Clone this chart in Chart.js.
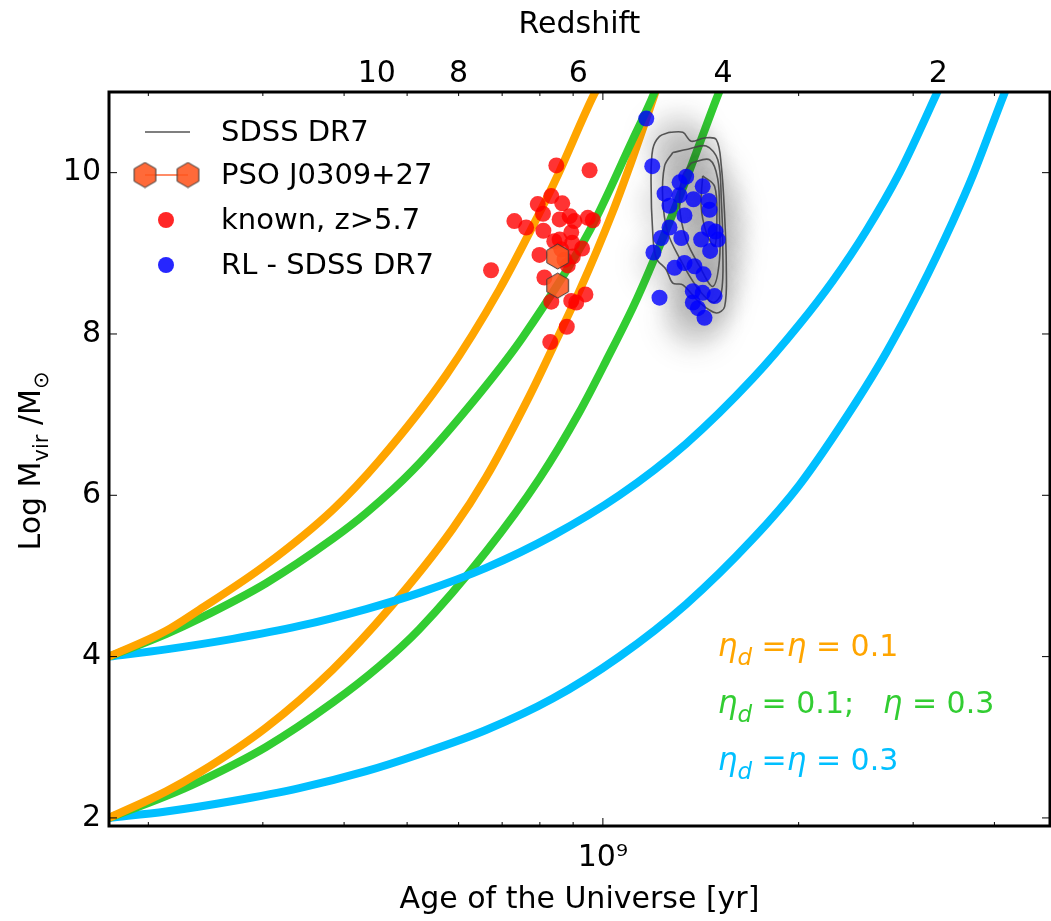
<!DOCTYPE html>
<html>
<head>
<meta charset="utf-8">
<title>BH growth vs age of the Universe</title>
<script src="https://cdn.jsdelivr.net/npm/chart.js@4.4.1/dist/chart.umd.min.js"></script>
<style>
  html, body { margin: 0; padding: 0; background: #fff; overflow: hidden; }
  #wrap { width: 1051px; height: 921px; position: relative; }
  canvas { display: block; }
</style>
</head>
<body>
<div id="wrap"><canvas id="chart"></canvas></div>
<script>
// axis ticks
const massTicks = [2, 4, 6, 8, 10];
const ageMajorTicks = [1e9];
const ageMajorLabels = ['10\u2079'];
const ageMinorTicks = [2e8, 3e8, 4e8, 5e8, 6e8, 7e8, 8e8, 9e8, 2e9, 3e9, 4e9];
const redshiftAge = [4.49e8, 6.0e8, 9.17e8, 1.53e9, 3.28e9];
const redshiftLabel = ['10', '8', '6', '4', '2'];

// growth tracks (age in yr, log M)
const ageOrangeHigh = [1.74e8, 2.13e8, 2.395e8, 3.034e8, 3.842e8, 4.53e8, 5.74e8, 6.93e8, 7.93e8, 8.48e8, 9.61e8, 9.88e8];
const massOrangeHigh = [4.0, 4.32, 4.58, 5.14, 5.82, 6.43, 7.49, 8.55, 9.45, 9.93, 10.91, 11.1];
const ageOrangeLow = [1.74e8, 2.13e8, 2.395e8, 3.034e8, 3.842e8, 4.70e8, 5.87e8, 6.61e8, 7.71e8, 8.42e8, 9.20e8, 1.036e9, 1.112e9, 1.194e9, 1.222e9];
const massOrangeLow = [2.0, 2.33, 2.56, 3.12, 3.84, 4.60, 5.58, 6.22, 7.23, 7.87, 8.53, 9.52, 10.19, 10.91, 11.15];
const ageGreenHigh = [1.74e8, 2.13e8, 2.395e8, 3.034e8, 3.842e8, 4.325e8, 5.10e8, 6.46e8, 7.53e8, 9.54e8, 1.110e9, 1.188e9, 1.215e9];
const massGreenHigh = [4.0, 4.28, 4.47, 4.91, 5.46, 5.78, 6.31, 7.26, 7.96, 9.28, 10.40, 10.91, 11.1];
const ageGreenLow = [1.74e8, 2.13e8, 2.395e8, 3.034e8, 3.842e8, 4.53e8, 5.22e8, 6.61e8, 7.99e8, 9.20e8, 1.012e9, 1.127e9, 1.244e9, 1.354e9, 1.494e9, 1.53e9];
const massGreenLow = [2.0, 2.27, 2.45, 2.88, 3.43, 3.88, 4.34, 5.30, 6.21, 7.03, 7.67, 8.43, 9.24, 9.99, 10.91, 11.12];
const ageCyanHigh = [1.74e8, 2.13e8, 2.697e8, 3.414e8, 4.325e8, 5.22e8, 6.61e8, 8.37e8, 1.06e9, 1.343e9, 1.701e9, 2.006e9, 2.258e9, 2.541e9, 2.859e9, 3.26e9, 3.354e9];
const massCyanHigh = [4.0, 4.09, 4.22, 4.38, 4.59, 4.79, 5.10, 5.50, 6.00, 6.64, 7.45, 8.12, 8.66, 9.28, 10.0, 10.98, 11.2];
const ageCyanLow = [1.74e8, 2.13e8, 2.697e8, 3.414e8, 4.325e8, 5.22e8, 6.61e8, 8.37e8, 1.06e9, 1.343e9, 1.701e9, 2.006e9, 2.453e9, 2.728e9, 3.07e9, 3.454e9, 3.708e9, 4.133e9, 4.25e9];
const massCyanLow = [2.0, 2.08, 2.21, 2.37, 2.58, 2.79, 3.09, 3.48, 4.0, 4.65, 5.46, 6.13, 7.16, 7.77, 8.54, 9.40, 9.97, 10.96, 11.2];

// known quasars z>5.7
const knownAge = [8.48e8, 9.54e8, 8.33e8, 7.94e8, 8.09e8, 8.66e8, 7.31e8, 7.62e8, 8.58e8, 8.89e8, 9.04e8, 9.48e8, 9.65e8, 8.10e8, 8.58e8, 8.94e8, 8.97e8, 9.29e8, 7.99e8, 8.63e8, 8.99e8, 8.83e8, 6.73e8, 8.13e8, 8.33e8, 8.94e8, 9.10e8, 9.40e8, 8.80e8, 8.30e8, 8.42e8, 8.73e8];
const knownMass = [10.09, 10.03, 9.71, 9.61, 9.49, 9.62, 9.40, 9.32, 9.42, 9.46, 9.40, 9.44, 9.41, 9.28, 9.17, 9.26, 9.13, 9.06, 8.98, 9.05, 8.96, 8.85, 8.79, 8.70, 8.40, 8.41, 8.39, 8.49, 8.09, 7.90, 9.15, 8.92];

// PSO J0309+27
const psoAge = [8.52e8, 8.52e8];
const psoMass = [8.96, 8.60];

// radio loud SDSS DR7
const rlAge = [1.166e9, 1.191e9, 1.343e9, 1.312e9, 1.424e9, 1.244e9, 1.312e9, 1.378e9, 1.455e9, 1.266e9, 1.459e9, 1.335e9, 1.266e9, 1.455e9, 1.490e9, 1.229e9, 1.320e9, 1.416e9, 1.502e9, 1.462e9, 1.196e9, 1.289e9, 1.335e9, 1.383e9, 1.428e9, 1.222e9, 1.375e9, 1.424e9, 1.485e9, 1.375e9, 1.400e9, 1.433e9];
const rlMass = [10.67, 10.08, 9.95, 9.88, 9.83, 9.74, 9.72, 9.67, 9.65, 9.59, 9.54, 9.47, 9.32, 9.30, 9.27, 9.19, 9.19, 9.17, 9.17, 9.03, 9.01, 8.82, 8.88, 8.84, 8.74, 8.45, 8.53, 8.51, 8.47, 8.39, 8.32, 8.20];

// SDSS DR7 density contours
const contourAge1 = [1.266e9, 1.327e9, 1.367e9, 1.433e9, 1.494e9, 1.521e9, 1.539e9, 1.548e9, 1.539e9, 1.494e9, 1.408e9, 1.327e9, 1.281e9, 1.251e9, 1.208e9, 1.193e9, 1.186e9, 1.193e9, 1.222e9, 1.266e9];
const contourMass1 = [10.50, 10.50, 10.39, 10.43, 10.41, 10.08, 9.46, 8.84, 8.34, 8.26, 8.39, 8.61, 8.63, 8.80, 8.94, 9.26, 9.88, 10.29, 10.45, 10.50];
const contourAge2 = [1.281e9, 1.351e9, 1.442e9, 1.502e9, 1.521e9, 1.529e9, 1.521e9, 1.476e9, 1.392e9, 1.312e9, 1.258e9, 1.236e9, 1.244e9, 1.281e9];
const contourMass2 = [10.25, 10.29, 10.33, 10.16, 9.67, 9.05, 8.51, 8.39, 8.59, 8.94, 9.26, 9.67, 10.08, 10.25];
const contourAge3 = [1.367e9, 1.459e9, 1.502e9, 1.511e9, 1.511e9, 1.476e9, 1.408e9, 1.343e9, 1.312e9, 1.327e9, 1.367e9];
const contourMass3 = [10.12, 10.16, 9.92, 9.46, 8.92, 8.59, 8.84, 9.17, 9.59, 9.96, 10.12];
const contourAge4 = [1.424e9, 1.485e9, 1.497e9, 1.485e9, 1.442e9, 1.416e9, 1.424e9];
const contourMass4 = [9.96, 9.83, 9.42, 9.09, 9.26, 9.59, 9.96];

// SDSS DR7 density shading
const shadeAge = [1.30e9, 1.36e9, 1.43e9, 1.47e9, 1.48e9, 1.47e9, 1.45e9, 1.42e9, 1.38e9, 1.28e9, 1.27e9];
const shadeMass = [10.35, 10.15, 9.85, 9.55, 9.25, 8.95, 8.65, 8.4, 8.2, 9.6, 8.9];

const ORANGE = '#FFA500';
const GREEN = '#32CD32';
const CYAN = '#00BFFF';
const FONT = "'DejaVu Sans', sans-serif";

Chart.defaults.font.family = FONT;
Chart.defaults.color = '#000';

const pts = (xs, ys) => xs.map((v, i) => ({ x: v, y: ys[i] }));

function hexagonImage(r, fill, edge) {
  const c = document.createElement('canvas');
  const w = Math.ceil(r * 2 + 2);
  c.width = w;
  c.height = w;
  const g = c.getContext('2d');
  g.beginPath();
  for (let i = 0; i < 6; i++) {
    const ang = Math.PI / 180 * (60 * i - 90);
    const px = w / 2 + r * Math.cos(ang);
    const py = w / 2 + r * Math.sin(ang);
    if (i === 0) g.moveTo(px, py); else g.lineTo(px, py);
  }
  g.closePath();
  g.fillStyle = fill;
  g.fill();
  g.strokeStyle = edge;
  g.lineWidth = 1;
  g.stroke();
  return c;
}
const hexImg = hexagonImage(12.5, 'rgba(255,85,30,0.88)', '#3a3a3a');

function track(xs, ys, color) {
  return {
    data: pts(xs, ys),
    showLine: true,
    borderColor: color,
    borderWidth: 8,
    pointRadius: 0,
    pointHoverRadius: 0,
    cubicInterpolationMode: 'monotone',
    clip: 0,
    order: 6
  };
}

function contour(xs, ys) {
  return {
    data: pts(xs, ys),
    showLine: true,
    borderColor: 'rgba(70,70,70,0.9)',
    borderWidth: 1.6,
    pointRadius: 0,
    pointHoverRadius: 0,
    tension: 0.35,
    order: 3
  };
}

// draws a run of text pieces with different fonts / offsets
function drawRich(ctx, x, y, parts) {
  let cx = x;
  parts.forEach(p => {
    ctx.font = p.font;
    ctx.fillText(p.text, cx, y + (p.dy || 0));
    cx += ctx.measureText(p.text).width;
  });
  return cx - x;
}
function richWidth(ctx, parts) {
  let w = 0;
  parts.forEach(p => { ctx.font = p.font; w += ctx.measureText(p.text).width; });
  return w;
}

const decorations = {
  id: 'decorations',
  beforeDatasetDraw(chart, args) {
    const ds = chart.data.datasets[args.index];
    if (ds.blur) {
      chart.ctx.save();
      chart.ctx.filter = 'blur(' + ds.blur + 'px)';
    }
  },
  afterDatasetDraw(chart, args) {
    const ds = chart.data.datasets[args.index];
    if (ds.blur) chart.ctx.restore();
  },
  afterDraw(chart) {
    const ctx = chart.ctx;
    const a = chart.chartArea;
    const xs = chart.scales.x;
    const ys = chart.scales.y;
    ctx.save();

    // inward ticks on all four sides
    ctx.strokeStyle = '#000';
    ctx.lineWidth = 1;
    ctx.beginPath();
    massTicks.forEach(v => {
      const py = ys.getPixelForValue(v);
      ctx.moveTo(a.left, py); ctx.lineTo(a.left + 8, py);
      ctx.moveTo(a.right, py); ctx.lineTo(a.right - 8, py);
    });
    ageMajorTicks.forEach(v => {
      const px = xs.getPixelForValue(v);
      ctx.moveTo(px, a.bottom); ctx.lineTo(px, a.bottom - 8);
      ctx.moveTo(px, a.top); ctx.lineTo(px, a.top + 8);
    });
    ageMinorTicks.forEach(v => {
      const px = xs.getPixelForValue(v);
      ctx.moveTo(px, a.bottom); ctx.lineTo(px, a.bottom - 4);
      ctx.moveTo(px, a.top); ctx.lineTo(px, a.top + 4);
    });
    ctx.stroke();

    // frame
    ctx.lineWidth = 3;
    ctx.strokeRect(a.left, a.top, a.right - a.left, a.bottom - a.top);

    // y title with subscripts
    const yParts = [
      { text: 'Log M', font: '30px ' + FONT },
      { text: 'vir', font: '21px ' + FONT, dy: 8 },
      { text: ' /M', font: '30px ' + FONT },
      { text: '\u2299', font: '21px ' + FONT, dy: 8 }
    ];
    const yw = richWidth(ctx, yParts);
    ctx.fillStyle = '#000';
    ctx.textBaseline = 'alphabetic';
    ctx.textAlign = 'left';
    ctx.save();
    ctx.translate(40, (a.top + a.bottom) / 2 + 2 + yw / 2);
    ctx.rotate(-Math.PI / 2);
    drawRich(ctx, 0, 0, yParts);
    ctx.restore();

    // legend
    const lx = a.left;
    const rows = [a.top + 40, a.top + 83, a.top + 128, a.top + 173];
    ctx.strokeStyle = '#555';
    ctx.lineWidth = 1.5;
    ctx.beginPath();
    ctx.moveTo(lx + 36, rows[0]); ctx.lineTo(lx + 81, rows[0]);
    ctx.stroke();
    ctx.strokeStyle = 'rgba(255,85,30,0.9)';
    ctx.lineWidth = 1.5;
    ctx.beginPath();
    ctx.moveTo(lx + 36, rows[1]); ctx.lineTo(lx + 79, rows[1]);
    ctx.stroke();
    ctx.drawImage(hexImg, lx + 36 - hexImg.width / 2, rows[1] - hexImg.height / 2);
    ctx.drawImage(hexImg, lx + 79 - hexImg.width / 2, rows[1] - hexImg.height / 2);
    ctx.fillStyle = 'rgba(255,0,0,0.85)';
    ctx.beginPath(); ctx.arc(lx + 57, rows[2], 8, 0, Math.PI * 2); ctx.fill();
    ctx.fillStyle = 'rgba(0,0,255,0.85)';
    ctx.beginPath(); ctx.arc(lx + 57, rows[3], 8, 0, Math.PI * 2); ctx.fill();
    ctx.fillStyle = '#000';
    ctx.font = '29px ' + FONT;
    ctx.textBaseline = 'middle';
    ['SDSS DR7', 'PSO J0309+27', 'known, z>5.7', 'RL - SDSS DR7'].forEach((t, i) => {
      ctx.fillText(t, lx + 112, rows[i] + 1);
    });

    // efficiency annotations
    const tx = a.left + 0.647 * (a.right - a.left);
    const h = a.bottom - a.top;
    const eta = { text: '\u03b7', font: 'italic 31px ' + FONT };
    const sub = { text: 'd', font: 'italic 23px ' + FONT, dy: 9 };
    const n = t => ({ text: t, font: '30px ' + FONT });
    ctx.textBaseline = 'alphabetic';
    ctx.fillStyle = ORANGE;
    drawRich(ctx, tx, a.top + 0.769 * h, [eta, sub, n(' ='), eta, n(' = 0.1')]);
    ctx.fillStyle = GREEN;
    drawRich(ctx, tx, a.top + 0.846 * h, [eta, sub, n(' = 0.1;   '), eta, n(' = 0.3')]);
    ctx.fillStyle = CYAN;
    drawRich(ctx, tx, a.top + 0.924 * h, [eta, sub, n(' ='), eta, n(' = 0.3')]);

    ctx.restore();
  }
};

new Chart(document.getElementById('chart'), {
  type: 'scatter',
  data: {
    datasets: [
      {
        label: 'RL - SDSS DR7',
        data: pts(rlAge, rlMass),
        backgroundColor: 'rgba(0,0,255,0.8)',
        borderWidth: 0,
        pointRadius: 8,
        pointHoverRadius: 8,
        order: 0
      },
      {
        label: 'PSO J0309+27',
        data: pts(psoAge, psoMass),
        pointStyle: hexImg,
        pointRadius: 12,
        order: 1
      },
      {
        label: 'known, z>5.7',
        data: pts(knownAge, knownMass),
        backgroundColor: 'rgba(255,0,0,0.8)',
        borderWidth: 0,
        pointRadius: 8,
        pointHoverRadius: 8,
        order: 2
      },
      contour(contourAge1, contourMass1),
      contour(contourAge2, contourMass2),
      contour(contourAge3, contourMass3),
      contour(contourAge4, contourMass4),
      {
        label: 'SDSS DR7 density',
        data: pts(shadeAge, shadeMass),
        backgroundColor: 'rgba(30,30,30,0.16)',
        borderWidth: 0,
        pointRadius: 31,
        pointHoverRadius: 31,
        blur: 13,
        order: 4
      },
      track(ageOrangeHigh, massOrangeHigh, ORANGE),
      track(ageGreenHigh, massGreenHigh, GREEN),
      track(ageCyanHigh, massCyanHigh, CYAN),
      track(ageOrangeLow, massOrangeLow, ORANGE),
      track(ageGreenLow, massGreenLow, GREEN),
      track(ageCyanLow, massCyanLow, CYAN)
    ]
  },
  options: {
    responsive: true,
    maintainAspectRatio: false,
    animation: false,
    layout: { autoPadding: false, padding: { left: 0, right: 1, top: 0, bottom: 0 } },
    plugins: {
      legend: { display: false },
      tooltip: { enabled: false }
    },
    scales: {
      x: {
        type: 'logarithmic',
        position: 'bottom',
        min: 1.74e8,
        max: 4.87e9,
        grid: { display: false, drawTicks: false },
        border: { display: false },
        afterBuildTicks: s => { s.ticks = ageMajorTicks.map(v => ({ value: v })); },
        afterFit: s => { s.height = 95; },
        ticks: {
          callback: (v, i) => ageMajorLabels[i],
          font: { size: 30 },
          color: '#000',
          padding: 14,
          maxRotation: 0,
          autoSkip: false
        },
        title: {
          display: true,
          text: 'Age of the Universe [yr]',
          font: { size: 30 },
          color: '#000',
          padding: { top: 0, bottom: 3 }
        }
      },
      x2: {
        type: 'logarithmic',
        position: 'top',
        min: 1.74e8,
        max: 4.87e9,
        grid: { display: false, drawTicks: false },
        border: { display: false },
        afterBuildTicks: s => { s.ticks = redshiftAge.map(v => ({ value: v })); },
        afterFit: s => { s.height = 92; },
        ticks: {
          callback: (v, i) => redshiftLabel[i],
          font: { size: 30 },
          color: '#000',
          padding: 0,
          maxRotation: 0,
          autoSkip: false
        },
        title: {
          display: true,
          text: 'Redshift',
          font: { size: 30 },
          color: '#000',
          padding: { top: 7, bottom: 0 }
        }
      },
      y: {
        type: 'linear',
        min: 1.9,
        max: 11,
        grid: { display: false, drawTicks: false },
        border: { display: false },
        afterBuildTicks: s => { s.ticks = massTicks.map(v => ({ value: v })); },
        afterFit: s => { s.width = 109; },
        ticks: { font: { size: 30 }, color: '#000', padding: 8 }
      }
    }
  },
  plugins: [decorations]
});
</script>
</body>
</html>
